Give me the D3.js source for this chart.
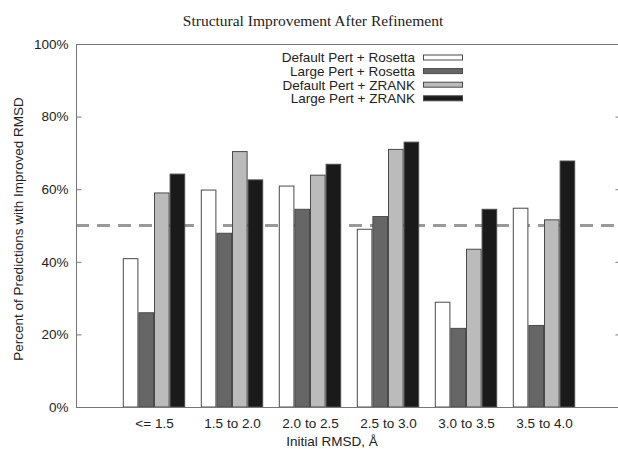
<!DOCTYPE html>
<html>
<head>
<meta charset="utf-8">
<script src="https://cdn.jsdelivr.net/npm/d3@7"></script>
<style>
  html, body { margin: 0; padding: 0; background: #fff; }
  svg { display: block; }
</style>
</head>
<body>
<script>
const categories = ["<= 1.5", "1.5 to 2.0", "2.0 to 2.5", "2.5 to 3.0", "3.0 to 3.5", "3.5 to 4.0"];
const seriesNames = ["Default Pert + Rosetta", "Large Pert + Rosetta", "Default Pert + ZRANK", "Large Pert + ZRANK"];
const defaultRosetta = [41.0, 59.9, 61.0, 49.1, 29.0, 54.9];
const largeRosetta   = [26.1, 48.0, 54.6, 52.6, 21.8, 22.6];
const defaultZrank   = [59.1, 70.5, 64.0, 71.1, 43.6, 51.7];
const largeZrank     = [64.3, 62.7, 67.0, 73.1, 54.6, 67.9];
const yTicks = [0, 20, 40, 60, 80, 100];
const referenceLine = 50;
const seriesColors = ["#ffffff", "#666666", "#bbbbbb", "#1a1a1a"];

const W = 618, H = 449;
const series = [defaultRosetta, largeRosetta, defaultZrank, largeZrank];

const svg = d3.select("body").append("svg").attr("width", W).attr("height", H);

const x = d3.scaleLinear().domain([-1, 6]).range([76, 622]);
const y = d3.scaleLinear().domain([0, 100]).range([407, 44]);
const barW = x(0.2) - x(0);

const sans = "'Liberation Sans', Arial, Helvetica, sans-serif";
const fs = 13.5;

// Title
svg.append("text")
  .attr("x", 313).attr("y", 26)
  .attr("text-anchor", "middle")
  .attr("font-family", "'Liberation Serif', 'Times New Roman', serif")
  .attr("font-size", 15.5).attr("fill", "#222")
  .text("Structural Improvement After Refinement");

// Reference dashed line
svg.append("line")
  .attr("x1", x(-1)).attr("x2", x(6))
  .attr("y1", y(referenceLine)).attr("y2", y(referenceLine))
  .attr("stroke", "#999").attr("stroke-width", 3)
  .attr("stroke-dasharray", "13,8");

// Bars
series.forEach((vals, j) => {
  svg.append("g").selectAll("rect").data(vals).join("rect")
    .attr("x", (d, i) => x(i - 0.4 + 0.2 * j) + 0.5)
    .attr("y", d => y(d) + 0.5)
    .attr("width", barW - 1)
    .attr("height", d => y(0) - y(d) - 0.5)
    .attr("fill", seriesColors[j])
    .attr("stroke", "#4a4a4a").attr("stroke-width", 1);
});

// Frame
const axisColor = "#777";
svg.append("line").attr("x1", x(-1)).attr("x2", x(6)).attr("y1", y(100)+0.5).attr("y2", y(100)+0.5).attr("stroke", axisColor);
svg.append("line").attr("x1", x(-1)).attr("x2", x(6)).attr("y1", y(0)+0.5).attr("y2", y(0)+0.5).attr("stroke", axisColor);
svg.append("line").attr("x1", x(-1)+0.5).attr("x2", x(-1)+0.5).attr("y1", y(100)).attr("y2", y(0)).attr("stroke", axisColor);
svg.append("line").attr("x1", x(6)-0.5).attr("x2", x(6)-0.5).attr("y1", y(100)).attr("y2", y(0)).attr("stroke", axisColor);

// Y axis (left) with inward ticks
const yAxis = d3.axisLeft(y).tickValues(yTicks).tickFormat(d => d + "%").tickSizeInner(-5).tickSizeOuter(0).tickPadding(8);
const gy = svg.append("g").attr("transform", `translate(${x(-1)+0.5},0)`).call(yAxis);
gy.select(".domain").remove();
gy.selectAll("line").attr("stroke", axisColor);
gy.selectAll("text").attr("font-family", sans).attr("font-size", fs).attr("fill", "#222");

// Right mirror ticks
const yAxisR = d3.axisRight(y).tickValues(yTicks).tickFormat("").tickSizeInner(-6).tickSizeOuter(0);
const gyr = svg.append("g").attr("transform", `translate(${x(6)-0.5},0)`).call(yAxisR);
gyr.select(".domain").remove();
gyr.selectAll("line").attr("stroke", axisColor);

// X axis labels
const xAxis = d3.axisBottom(x).tickValues(d3.range(categories.length)).tickFormat(i => categories[i]).tickSize(0).tickPadding(11);
const gx = svg.append("g").attr("transform", `translate(0,${y(0)})`).call(xAxis);
gx.select(".domain").remove();
gx.selectAll("text").attr("font-family", sans).attr("font-size", fs).attr("fill", "#222");

// Axis titles
svg.append("text")
  .attr("x", 332).attr("y", 446)
  .attr("text-anchor", "middle")
  .attr("font-family", sans).attr("font-size", fs).attr("fill", "#222")
  .text("Initial RMSD, Å");

svg.append("text")
  .attr("transform", "translate(23,229) rotate(-90)")
  .attr("text-anchor", "middle")
  .attr("font-family", sans).attr("font-size", fs).attr("fill", "#222")
  .text("Percent of Predictions with Improved RMSD");

// Legend
const legend = svg.append("g");
seriesNames.forEach((name, j) => {
  const cy = 57.5 + j * 13.6;
  legend.append("text")
    .attr("x", 415).attr("y", cy + 4.8)
    .attr("text-anchor", "end")
    .attr("font-family", sans).attr("font-size", fs).attr("fill", "#222")
    .text(name);
  legend.append("rect")
    .attr("x", 423.5).attr("y", cy - 2.5)
    .attr("width", 39).attr("height", 5)
    .attr("fill", seriesColors[j])
    .attr("stroke", "#4a4a4a").attr("stroke-width", 1);
});
</script>
</body>
</html>
